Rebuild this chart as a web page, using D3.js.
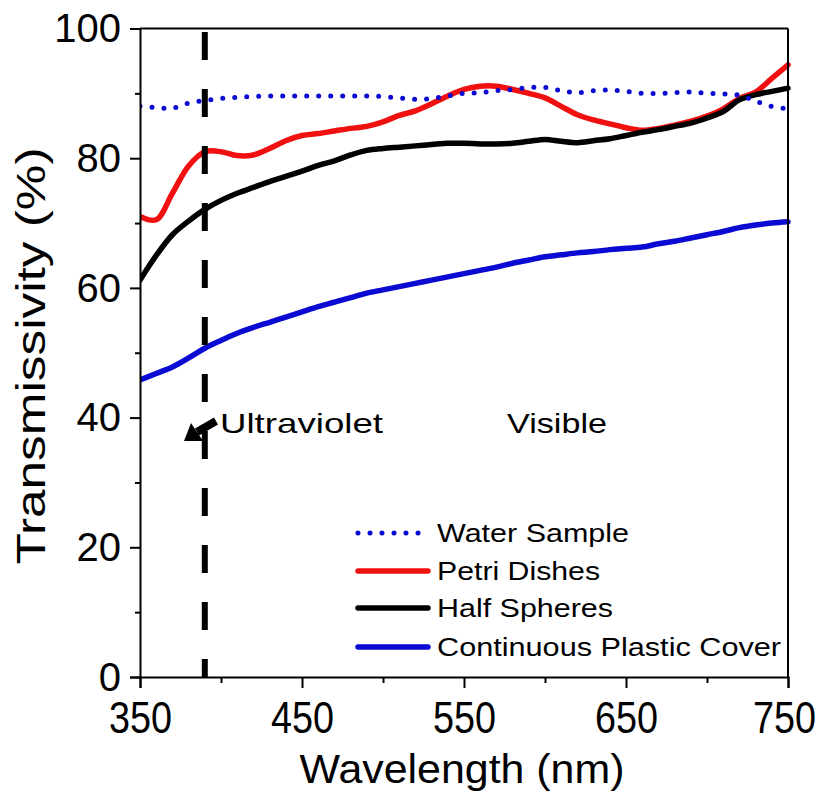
<!DOCTYPE html>
<html>
<head>
<meta charset="utf-8">
<script src="https://cdn.jsdelivr.net/npm/d3@7"></script>
<style>
  html, body { margin: 0; padding: 0; background: #fff; }
  svg { display: block; font-family: "Liberation Sans", Arial, sans-serif; }
</style>
</head>
<body>
<svg id="chart" width="827" height="795"></svg>
<script>
// ---------- data ----------
const wavelengths = [350,360,370,380,390,400,410,420,430,440,450,460,470,480,490,500,510,520,530,540,550,560,570,580,590,600,610,620,630,640,650,660,670,680,690,700,710,720,730,740,750];
const waterSample = [88.0,87.8,87.7,88.5,88.9,89.2,89.4,89.5,89.6,89.6,89.6,89.6,89.6,89.6,89.6,89.5,89.3,89.1,89.2,89.6,90.0,90.1,90.4,90.6,90.9,90.9,90.4,90.1,90.4,90.5,90.3,90.0,90.0,90.1,90.2,90.0,89.9,89.7,88.8,88.0,87.6];
const petriDishes = [71.0,70.5,74.6,78.8,81.0,81.0,80.4,80.5,81.5,82.7,83.5,83.8,84.2,84.6,84.9,85.6,86.6,87.3,88.4,89.6,90.6,91.1,91.1,90.6,90.0,89.3,88.0,86.7,85.9,85.3,84.7,84.3,84.6,85.1,85.7,86.5,87.6,89.2,90.2,92.3,94.4];
const halfSpheres = [61.2,65.0,68.2,70.3,72.1,73.5,74.6,75.5,76.4,77.2,78.0,78.9,79.6,80.5,81.2,81.5,81.7,81.9,82.1,82.3,82.3,82.2,82.2,82.3,82.6,82.9,82.6,82.4,82.7,83.0,83.5,84.0,84.4,84.9,85.4,86.2,87.2,89.0,89.8,90.3,90.8];
const plasticCover = [45.8,46.8,47.8,49.2,50.7,51.9,53.0,53.9,54.7,55.5,56.3,57.1,57.8,58.5,59.2,59.7,60.2,60.7,61.2,61.7,62.2,62.7,63.2,63.8,64.3,64.8,65.1,65.4,65.6,65.9,66.1,66.3,66.8,67.2,67.7,68.2,68.7,69.3,69.7,70.0,70.2];

const seriesNames = ["Water Sample","Petri Dishes","Half Spheres","Continuous Plastic Cover"];
const xTickValues = [350,450,550,650,750];
const xMinorTicks = [400,500,600,700];
const yTickValues = [0,20,40,60,80,100];
const yMinorTicks = [10,30,50,70,90];
const uvBoundary = 390;
const regionLabels = ["Ultraviolet","Visible"];
const axisTitles = {x: "Wavelength (nm)", y: "Transmissivity (%)"};

// ---------- layout ----------
const svg = d3.select("#chart");
const L = 140, R = 788, T = 28.5, B = 677;
const x = d3.scaleLinear().domain([350,750]).range([L,R]);
const y = d3.scaleLinear().domain([0,100]).range([B,T]);

const pts = vals => wavelengths.map((w,i)=>[w, vals[i]]);
const line = d3.line().x(d=>x(d[0])).y(d=>y(d[1])).curve(d3.curveCatmullRom.alpha(0.5));

const styles = {
  "Water Sample": {color:"#0a0ad2", width:5, dash:"0 12", cap:"round"},
  "Petri Dishes": {color:"#f01010", width:5.5, dash:null, cap:"round"},
  "Half Spheres": {color:"#000000", width:5.5, dash:null, cap:"round"},
  "Continuous Plastic Cover": {color:"#0a0ad2", width:5.5, dash:null, cap:"round"}
};
const dataByName = {
  "Water Sample": waterSample,
  "Petri Dishes": petriDishes,
  "Half Spheres": halfSpheres,
  "Continuous Plastic Cover": plasticCover
};

svg.append("defs").append("clipPath").attr("id","clip")
  .append("rect").attr("x",L).attr("y",T-3).attr("width",R-L+3).attr("height",B-T+3);

const plot = svg.append("g").attr("clip-path","url(#clip)");
["Continuous Plastic Cover","Petri Dishes","Half Spheres","Water Sample"].forEach(name=>{
  const s = styles[name];
  plot.append("path")
    .datum(pts(dataByName[name]))
    .attr("d", line)
    .attr("fill","none")
    .attr("stroke", s.color)
    .attr("stroke-width", s.width)
    .attr("stroke-linecap", s.cap)
    .attr("stroke-linejoin","round")
    .attr("stroke-dasharray", s.dash);
});

// dashed UV boundary
svg.append("line")
  .attr("x1", x(uvBoundary)).attr("x2", x(uvBoundary))
  .attr("y1", 32).attr("y2", B)
  .attr("stroke","#000").attr("stroke-width",6)
  .attr("stroke-dasharray","28 29");

// frame: top and right
svg.append("line").attr("x1",L).attr("x2",R).attr("y1",T).attr("y2",T).attr("stroke","#000").attr("stroke-width",2);
svg.append("line").attr("x1",R).attr("x2",R).attr("y1",T).attr("y2",B).attr("stroke","#000").attr("stroke-width",2);

// axes
const xAxis = svg.append("g").attr("transform",`translate(0,${B})`)
  .call(d3.axisBottom(x).tickValues(xTickValues).tickSize(11).tickFormat(d3.format("d")));
const xMinor = svg.append("g").attr("transform",`translate(0,${B})`)
  .call(d3.axisBottom(x).tickValues(xMinorTicks).tickSize(6).tickFormat(""));
const yAxis = svg.append("g").attr("transform",`translate(${L},0)`)
  .call(d3.axisLeft(y).tickValues(yTickValues).tickSize(10).tickFormat(d3.format("d")));
const yMinor = svg.append("g").attr("transform",`translate(${L},0)`)
  .call(d3.axisLeft(y).tickValues(yMinorTicks).tickSize(5).tickFormat(""));

[xAxis,xMinor,yAxis,yMinor].forEach(g=>{
  g.select(".domain").attr("stroke","#000").attr("stroke-width",2);
  g.selectAll(".tick line").attr("stroke","#000").attr("stroke-width",2);
});
xMinor.select(".domain").remove();
yMinor.select(".domain").remove();

xAxis.selectAll(".tick text")
  .attr("fill","#000")
  .attr("font-family","Liberation Sans, Arial, sans-serif")
  .attr("font-size",44)
  .attr("y",0).attr("dy",0)
  .attr("transform",(d,i)=> i === xTickValues.length-1 ? "translate(-4,56)" : "translate(0,56)")
  .attr("textLength",63).attr("lengthAdjust","spacingAndGlyphs");

yAxis.selectAll(".tick text")
  .attr("fill","#000")
  .attr("font-family","Liberation Sans, Arial, sans-serif")
  .attr("font-size",40)
  .attr("x",-19)
  .attr("dy","0.33em");

// axis titles
svg.append("text")
  .attr("x",(L+R)/2 - 2).attr("y",783)
  .attr("text-anchor","middle")
  .attr("font-size",41)
  .attr("textLength",325).attr("lengthAdjust","spacingAndGlyphs")
  .text(axisTitles.x);

svg.append("text")
  .attr("transform","translate(45,356) rotate(-90)")
  .attr("text-anchor","middle")
  .attr("font-size",40)
  .attr("textLength",417).attr("lengthAdjust","spacingAndGlyphs")
  .text(axisTitles.y);

// region labels + arrow
svg.append("text").attr("x",220).attr("y",433)
  .attr("font-size",28).attr("textLength",163).attr("lengthAdjust","spacingAndGlyphs")
  .text(regionLabels[0]);
svg.append("text").attr("x",507).attr("y",433)
  .attr("font-size",28).attr("textLength",100).attr("lengthAdjust","spacingAndGlyphs")
  .text(regionLabels[1]);

svg.append("line").attr("x1",216).attr("y1",421).attr("x2",197).attr("y2",432)
  .attr("stroke","#000").attr("stroke-width",8).attr("stroke-linecap","butt");
svg.append("path").attr("d","M184,441 L191,423 L203,441 Z").attr("fill","#000");

// legend
const legendRowY = [533,571,608,647];
const legendTextLen = [192,163,176,344];
const lg = svg.append("g");
seriesNames.forEach((name,i)=>{
  const s = styles[name];
  const yy = legendRowY[i];
  if (s.dash) {
    lg.append("line").attr("x1",358).attr("x2",420).attr("y1",yy).attr("y2",yy)
      .attr("stroke",s.color).attr("stroke-width",5).attr("stroke-linecap","round")
      .attr("stroke-dasharray","0 12");
  } else {
    lg.append("line").attr("x1",358).attr("x2",428).attr("y1",yy).attr("y2",yy)
      .attr("stroke",s.color).attr("stroke-width",5.5).attr("stroke-linecap","round");
  }
  lg.append("text").attr("x",437).attr("y",yy+9)
    .attr("font-size",26)
    .attr("textLength",legendTextLen[i]).attr("lengthAdjust","spacingAndGlyphs")
    .text(name);
});
</script>
</body>
</html>
